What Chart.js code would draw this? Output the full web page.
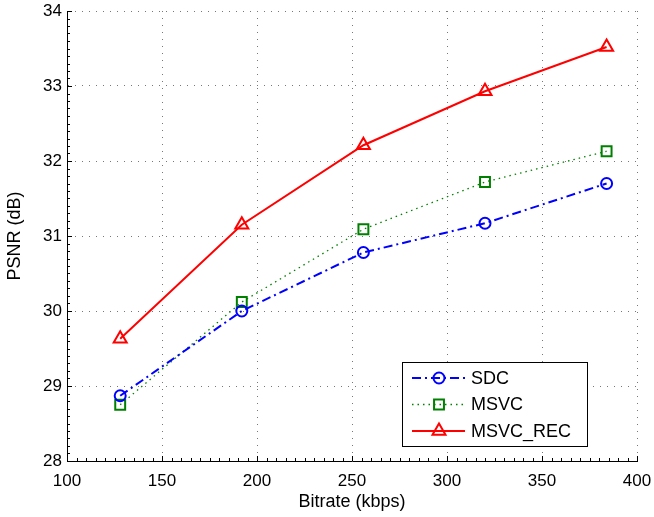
<!DOCTYPE html>
<html>
<head>
<meta charset="utf-8">
<script src="https://cdn.jsdelivr.net/npm/chart.js@4"></script>
<style>
  body { margin: 0; background: #fff; }
  #wrap { width: 654px; height: 517px; }
</style>
</head>
<body>
<div id="wrap"><canvas id="psnrChart"></canvas></div>
<script>
var bitrates = [128, 192, 256, 320, 384];
var sdcValues = [28.87, 30.0, 30.78, 31.17, 31.70];
var msvcValues = [28.75, 30.12, 31.09, 31.72, 32.13];
var msvcRecValues = [29.63, 31.15, 32.21, 32.93, 33.52];
var seriesNames = ["SDC", "MSVC", "MSVC_REC"];

function toPoints(xs, ys) {
    return xs.map(function (x, i) { return { x: x, y: ys[i] }; });
}

var fontName = "'Liberation Sans', Arial, sans-serif";

// inward major/minor ticks like matlab
var innerTicks = {
    id: "innerTicks",
    afterDraw: function (chart) {
        var ctx = chart.ctx, xs = chart.scales.x, ys = chart.scales.y;
        var area = chart.chartArea;
        ctx.save();
        ctx.strokeStyle = "#000";
        ctx.lineWidth = 1;
        ctx.beginPath();
        for (var v = 100; v <= 400; v += 5) {
            var px = Math.round(xs.getPixelForValue(v)) + 0.5;
            var len = (v % 50 === 0) ? 5 : 3;
            ctx.moveTo(px, area.bottom);
            ctx.lineTo(px, area.bottom - len);
        }
        for (var k = 0; k <= 60; k++) {
            var py = Math.round(ys.getPixelForValue(28 + k / 10)) + 0.5;
            var l = (k % 10 === 0) ? 5 : 3;
            ctx.moveTo(area.left, py);
            ctx.lineTo(area.left + l, py);
        }
        ctx.stroke();
        ctx.restore();
    }
};

// legend box inside the plot, lower right
var boxLegend = {
    id: "boxLegend",
    afterDraw: function (chart) {
        var ctx = chart.ctx;
        var x0 = 402, y0 = 362, w = 185, h = 84;
        ctx.save();
        ctx.fillStyle = "#fff";
        ctx.fillRect(x0, y0, w, h);
        ctx.strokeStyle = "#000";
        ctx.lineWidth = 1;
        ctx.strokeRect(x0 + 0.5, y0 + 0.5, w, h);
        chart.data.datasets.forEach(function (ds, i) {
            var y = y0 + 16 + i * 26.5;
            ctx.strokeStyle = ds.borderColor;
            ctx.lineWidth = ds.borderWidth;
            ctx.setLineDash(ds.borderDash || []);
            ctx.beginPath();
            ctx.moveTo(x0 + 10, y);
            ctx.lineTo(x0 + 63, y);
            ctx.stroke();
            ctx.setLineDash([]);
            ctx.fillStyle = "rgba(0,0,0,0)";
            ctx.lineWidth = ds.pointBorderWidth;
            Chart.helpers.drawPoint(ctx, {
                pointStyle: ds.pointStyle,
                radius: ds.pointRadius,
                borderWidth: ds.pointBorderWidth
            }, x0 + 37, y);
            ctx.fillStyle = "#000";
            ctx.font = "18px " + fontName;
            ctx.textBaseline = "middle";
            ctx.fillText(ds.label, x0 + 69, y + 1);
        });
        ctx.restore();
    }
};

new Chart("psnrChart", {
    type: "line",
    data: {
        datasets: [{
            label: seriesNames[0],
            data: toPoints(bitrates, sdcValues),
            borderColor: "#0000ff",
            borderWidth: 2,
            borderDash: [9, 4, 2, 4],
            pointStyle: "circle",
            pointRadius: 5.5,
            pointBorderWidth: 2,
            pointBorderColor: "#0000ff",
            pointBackgroundColor: "rgba(0,0,0,0)",
            fill: false
        }, {
            label: seriesNames[1],
            data: toPoints(bitrates, msvcValues),
            borderColor: "#008000",
            borderWidth: 1.3,
            borderDash: [1.5, 4],
            pointStyle: "rect",
            pointRadius: 7,
            pointBorderWidth: 2,
            pointBorderColor: "#008000",
            pointBackgroundColor: "rgba(0,0,0,0)",
            fill: false
        }, {
            label: seriesNames[2],
            data: toPoints(bitrates, msvcRecValues),
            borderColor: "#ff0000",
            borderWidth: 2,
            pointStyle: "triangle",
            pointRadius: 7.5,
            pointBorderWidth: 2,
            pointBorderColor: "#ff0000",
            pointBackgroundColor: "rgba(0,0,0,0)",
            fill: false
        }]
    },
    plugins: [innerTicks, boxLegend],
    options: {
        responsive: true,
        maintainAspectRatio: false,
        animation: false,
        layout: { padding: { left: 0, top: 11, right: 17, bottom: 0 } },
        plugins: {
            legend: { display: false },
            tooltip: { enabled: false }
        },
        scales: {
            x: {
                type: "linear",
                min: 100,
                max: 400,
                ticks: { stepSize: 50, color: "#000", padding: 10, font: { family: fontName, size: 17 } },
                grid: { color: "#777", drawTicks: false },
                border: { display: true, color: "#000", width: 1, dash: [1, 6] },
                title: { display: true, text: "Bitrate (kbps)", color: "#000", padding: { top: 0 }, font: { family: fontName, size: 18 } },
                afterFit: function (s) { s.height = 56; s.paddingLeft = 0; s.paddingRight = 0; }
            },
            y: {
                min: 28,
                max: 34,
                ticks: { stepSize: 1, color: "#000", padding: 5, font: { family: fontName, size: 17 } },
                grid: { color: "#777", drawTicks: false },
                border: { display: true, color: "#000", width: 1, dash: [1, 6] },
                title: { display: true, text: "PSNR (dB)", color: "#000", padding: { bottom: 2 }, font: { family: fontName, size: 18 } },
                afterFit: function (s) { s.width = 67; s.paddingTop = 0; s.paddingBottom = 0; }
            }
        }
    }
});
</script>
</body>
</html>
